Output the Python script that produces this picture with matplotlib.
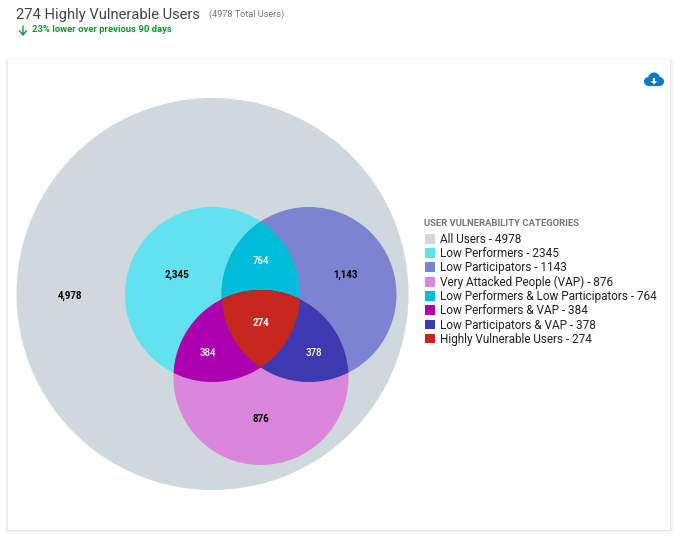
import matplotlib
matplotlib.use('Agg')
import numpy as np
import matplotlib.pyplot as plt
from matplotlib.patches import Circle, Rectangle, Polygon, Patch

# legend / region data
categories = ['All Users', 'Low Performers', 'Low Participators', 'Very Attacked People (VAP)',
              'Low Performers & Low Participators', 'Low Performers & VAP',
              'Low Participators & VAP', 'Highly Vulnerable Users']
values = [4978, 2345, 1143, 876, 764, 384, 378, 274]
colors = ['#CFD8DC', '#62E2EE', '#7C83D1', '#DA86DB', '#00BCD9', '#AC00B0', '#3F39AF', '#C6261E']

plt.rcParams['font.family'] = ['Roboto', 'DejaVu Sans']

fig = plt.figure(figsize=(6.8, 5.45), dpi=100)
ax = fig.add_axes([0, 0, 1, 1])
ax.set_xlim(0, 680)
ax.set_ylim(545, 0)
ax.axis('off')

# card with soft shadow, heavier at the bottom
for i, a in zip([6, 5, 4, 3, 2, 1], [0.006, 0.008, 0.010, 0.014, 0.018, 0.022]):
    ax.add_patch(Rectangle((8 - i * 0.7, 60 - i * 0.2), 662 + i * 1.4, 470 + i * 0.9,
                           fc='black', ec='none', alpha=a, zorder=0))
ax.add_patch(Rectangle((8, 60), 662, 470, fc='white', ec='none', zorder=1))

# venn geometry
big = (212.5, 294, 196)
c_perf = (212.5, 294.5, 87.5)
c_part = (309, 294.5, 87.5)
c_vap = (261, 377.5, 87.5)


def circle_pts(c, n=1440):
    t = np.linspace(0, 2 * np.pi, n, endpoint=False)
    return np.c_[c[0] + c[2] * np.cos(t), c[1] + c[2] * np.sin(t)]


def inside(pts, c):
    return np.hypot(pts[:, 0] - c[0], pts[:, 1] - c[1]) <= c[2] + 1e-9


def overlap(*circles):
    # boundary points of each circle that sit inside all the others, sorted round the middle
    keep = []
    for i, c in enumerate(circles):
        p = circle_pts(c)
        for j, o in enumerate(circles):
            if i != j:
                p = p[inside(p, o)]
        keep.append(p)
    keep = np.vstack(keep)
    mid = keep.mean(axis=0)
    return keep[np.argsort(np.arctan2(keep[:, 1] - mid[1], keep[:, 0] - mid[0]))]


ax.add_patch(Circle(big[:2], big[2], fc=colors[0], ec='none', zorder=2))
ax.add_patch(Circle(c_perf[:2], c_perf[2], fc=colors[1], ec='none', zorder=3))
ax.add_patch(Circle(c_part[:2], c_part[2], fc=colors[2], ec='none', zorder=3))
ax.add_patch(Circle(c_vap[:2], c_vap[2], fc=colors[3], ec='none', zorder=3))
ax.add_patch(Polygon(overlap(c_perf, c_part), fc=colors[4], ec='none', zorder=4))
ax.add_patch(Polygon(overlap(c_perf, c_vap), fc=colors[5], ec='none', zorder=4))
ax.add_patch(Polygon(overlap(c_part, c_vap), fc=colors[6], ec='none', zorder=4))
ax.add_patch(Polygon(overlap(c_perf, c_part, c_vap), fc=colors[7], ec='none', zorder=5))

# region labels
label_xy = [(70, 295.5), (177, 274.5), (345.5, 274.5), (261, 419.5), (261, 261.5), (208, 353), (313.5, 353), (261, 322.5)]
label_col = ['black', 'black', 'black', 'black', 'white', 'white', 'white', 'white']
label_wt = ['bold', 'bold', 'bold', 'bold', 'medium', 'medium', 'medium', 'bold']
for (x, y), v, col, wt in zip(label_xy, values, label_col, label_wt):
    ax.text(x, y, f'{v:,}', ha='center', va='center', fontsize=7, fontweight=wt, color=col, zorder=6)

# header
ax.text(16, 15, '274 Highly Vulnerable Users', fontsize=10.6, color='#444444', va='center')
ax.text(209, 14, '(4978 Total Users)', fontsize=6.6, color='#757575', va='center')
ax.text(32, 30, '23% lower over previous 90 days', fontsize=6.8, fontweight='bold', color='#0A9A2E', va='center')
ax.annotate('', xy=(23, 36), xytext=(23, 26),
            arrowprops=dict(arrowstyle='->,head_width=0.25,head_length=0.3', color='#0A9A2E', lw=1, shrinkA=0, shrinkB=0))

# download cloud icon
for cx, cy, r in [(648.5, 81.5, 4.5), (654, 78.5, 6), (659.5, 81.5, 4.5)]:
    ax.add_patch(Circle((cx, cy), r, fc='#0B78CC', ec='none', zorder=3))
ax.add_patch(Rectangle((648.5, 80), 11, 6, fc='#0B78CC', ec='none', zorder=3))
ax.add_patch(Rectangle((653, 78), 2, 3.5, fc='white', ec='none', zorder=4))
ax.add_patch(Polygon([(650.8, 81), (657.2, 81), (654, 84.5)], fc='white', ec='none', zorder=4))

# legend
ax.text(424, 223, 'USER VULNERABILITY CATEGORIES', fontsize=6.8, fontweight='bold', color='#757575', va='center')
handles = [Patch(fc=c, ec='none', label=f'{n} - {v}') for n, v, c in zip(categories, values, colors)]
leg = ax.legend(handles=handles, loc='upper left', bbox_to_anchor=(425, 233), bbox_transform=ax.transData,
                frameon=False, fontsize=8.5, handlelength=0.88, handleheight=0.88, handletextpad=0.39,
                labelspacing=0.1, borderpad=0, borderaxespad=0)
for t in leg.get_texts():
    t.set_color('#222222')
leg.set_zorder(6)

fig.savefig('out.png', dpi=100, facecolor='white')
